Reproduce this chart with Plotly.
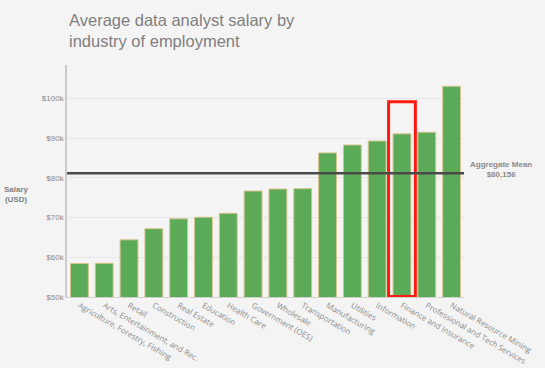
import plotly.graph_objects as go

industries = [
    "Agriculture, Forestry, Fishing", "Arts, Entertainment, and Rec.", "Retail",
    "Construction", "Real Estate", "Education", "Health Care", "Government (OES)",
    "Wholesale", "Transportation", "Manufacturing", "Utilities", "Information",
    "Finance and Insurance", "Professional and Tech Services", "Natural Resource Mining",
]
salaries = [58450, 58500, 64400, 67200, 69700, 70100, 71100, 76700,
            77200, 77300, 86300, 88300, 89300, 91100, 91500, 103100]
tick_vals = [50000, 60000, 70000, 80000, 90000, 100000]
tick_text = ["$50k", "$60k", "$70k", "$80k", "$90k", "$100k"]
mean_line_value = 81200
mean_label = "<b>Aggregate Mean<br>$80,156</b>"
title_text = "Average data analyst salary by<br>industry of employment"
highlight = "Finance and Insurance"

fig = go.Figure()
fig.add_trace(go.Bar(
    x=list(range(len(industries))), y=salaries,
    marker=dict(color="#5aaa57", line=dict(color="#d8c48e", width=1)),
    hoverinfo="skip",
))

hi = industries.index(highlight)
fig.add_shape(type="rect", xref="x", yref="y",
              x0=hi - 0.54, x1=hi + 0.54, y0=50100, y1=99200,
              line=dict(color="#ff1a0f", width=3), fillcolor="rgba(0,0,0,0)")
fig.add_shape(type="line", xref="paper", yref="y", x0=0, x1=1,
              y0=mean_line_value, y1=mean_line_value,
              line=dict(color="#4a4a4a", width=2.5))

fig.add_annotation(xref="paper", yref="y", x=1.092, y=mean_line_value,
                   xanchor="center", yanchor="bottom", text=mean_label,
                   showarrow=False, align="center",
                   font=dict(family="Liberation Sans", size=8, color="#8a8a8a"),
                   yshift=-8)
fig.add_annotation(xref="paper", yref="paper", x=-0.127, y=0.44,
                   xanchor="center", yanchor="middle", text="<b>Salary<br>(USD)</b>",
                   showarrow=False, align="center",
                   font=dict(family="Liberation Sans", size=8, color="#808080"))
fig.add_annotation(xref="paper", yref="paper", x=0, y=1 + (65 - 9) / 231.7,
                   xanchor="left", yanchor="top", text=title_text,
                   showarrow=False, align="left",
                   font=dict(family="Liberation Sans", size=16.5, color="#7f7f7f"))

fig.update_layout(
    width=545, height=368,
    margin=dict(l=66.5, r=81, t=65, b=71.3, autoexpand=False),
    paper_bgcolor="#f4f4f4", plot_bgcolor="#f4f4f4",
    bargap=0.28, showlegend=False,
    xaxis=dict(range=[-0.5, len(industries) - 0.5], automargin=False,
               tickvals=list(range(len(industries))), ticktext=industries,
               tickangle=30, showgrid=False, showline=True, linecolor="#d0d0d0",
               linewidth=1, ticks="",
               tickfont=dict(family="Open Sans", size=8, color="#8a8a8a")),
    yaxis=dict(range=[50000, 108450], tickvals=tick_vals, ticktext=tick_text,
               automargin=False,
               showgrid=True, gridcolor="#e6e6e6", gridwidth=1,
               showline=True, linecolor="#cccccc", linewidth=1.5, zeroline=False,
               ticks="", ticklen=0,
               tickfont=dict(family="Liberation Sans", size=8, color="#8a8a8a")),
)

fig.write_html("out.html", config={"displayModeBar": False},
               post_script="document.body.style.margin='0';document.body.style.overflow='hidden';")
